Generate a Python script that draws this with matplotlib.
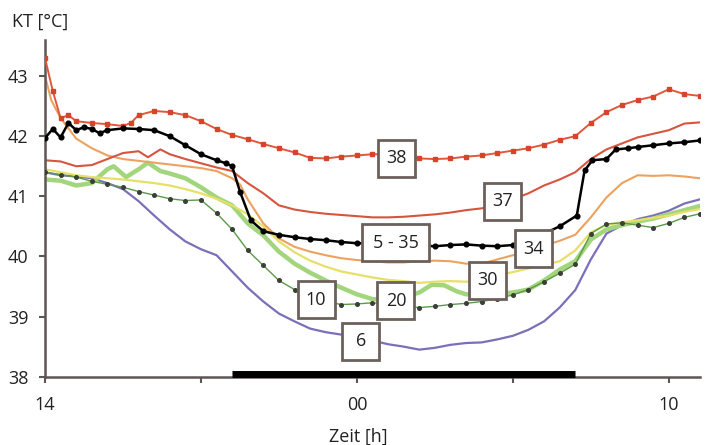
import matplotlib
matplotlib.use("Agg")
import matplotlib.pyplot as plt
from matplotlib.patches import Rectangle

plt.rcParams["font.family"] = ["Open Sans", "DejaVu Sans"]

# ── Data: body core temperature (KT) over one day, per ambient group ──────────
# hours counted from 14:00; 24 = 00:00, 34 = 10:00 next day

h_38 = [14.0, 14.25, 14.5, 14.75, 15.0, 15.5, 16.0, 16.5, 16.75, 17.0, 17.5,
        18.0, 18.5, 19.0, 19.5, 20.0, 20.5, 21.0, 21.5, 22.0, 22.5, 23.0, 23.5,
        24.0, 24.5, 25.0, 25.5, 26.0, 26.5, 27.0, 27.5, 28.0, 28.5, 29.0, 29.5,
        30.0, 30.5, 31.0, 31.5, 32.0, 32.5, 33.0, 33.5, 34.0, 34.5, 35.0]
t_38 = [43.30, 42.75, 42.30, 42.35, 42.25, 42.22, 42.20, 42.17, 42.22, 42.35,
        42.42, 42.40, 42.35, 42.25, 42.12, 42.02, 41.95, 41.87, 41.80, 41.73,
        41.64, 41.63, 41.66, 41.68, 41.70, 41.70, 41.67, 41.63, 41.62, 41.63,
        41.66, 41.68, 41.72, 41.76, 41.80, 41.86, 41.94, 42.00, 42.22, 42.40,
        42.52, 42.60, 42.66, 42.78, 42.70, 42.67]

h_37 = [14.0, 14.5, 15.0, 15.5, 16.0, 16.5, 17.0, 17.3, 17.7, 18.0, 18.5, 19.0,
        19.5, 20.0, 20.5, 21.0, 21.5, 22.0, 22.5, 23.0, 23.5, 24.0, 24.5, 25.0,
        25.5, 26.0, 26.5, 27.0, 27.5, 28.0, 28.5, 29.0, 29.5, 30.0, 30.5, 31.0,
        31.5, 32.0, 32.5, 33.0, 33.5, 34.0, 34.5, 35.0]
t_37 = [41.60, 41.58, 41.50, 41.52, 41.62, 41.72, 41.75, 41.65, 41.78, 41.70,
        41.62, 41.55, 41.48, 41.42, 41.22, 41.05, 40.85, 40.78, 40.74, 40.71,
        40.69, 40.67, 40.65, 40.65, 40.66, 40.68, 40.70, 40.73, 40.77, 40.80,
        40.85, 40.95, 41.05, 41.18, 41.28, 41.40, 41.62, 41.78, 41.88, 41.98,
        42.04, 42.10, 42.21, 42.23]

h_535 = [14.0, 14.25, 14.5, 14.75, 15.0, 15.25, 15.5, 15.75, 16.0, 16.5, 17.0,
         17.5, 18.0, 18.5, 19.0, 19.5, 19.8, 20.0, 20.25, 20.6, 21.0, 21.5, 22.0,
         22.5, 23.0, 23.5, 24.0, 24.5, 25.0, 25.5, 26.0, 26.5, 27.0, 27.5, 28.0,
         28.5, 29.0, 29.5, 30.0, 30.5, 31.05, 31.3, 31.55, 32.0, 32.3, 32.7,
         33.0, 33.5, 34.0, 34.5, 35.0]
t_535 = [41.97, 42.12, 41.98, 42.22, 42.10, 42.15, 42.12, 42.05, 42.10, 42.13,
         42.12, 42.10, 42.00, 41.85, 41.70, 41.60, 41.55, 41.50, 41.08, 40.60,
         40.42, 40.36, 40.32, 40.29, 40.27, 40.24, 40.22, 40.22, 40.21, 40.20,
         40.18, 40.17, 40.19, 40.20, 40.18, 40.17, 40.19, 40.25, 40.38, 40.50,
         40.68, 41.43, 41.60, 41.62, 41.78, 41.80, 41.82, 41.85, 41.88, 41.90,
         41.93]

h_34 = [14.0, 14.2, 14.5, 15.0, 15.5, 16.0, 16.5, 17.0, 17.5, 18.0, 18.5, 19.0,
        19.5, 20.0, 20.25, 20.5, 21.0, 21.5, 22.0, 22.5, 23.0, 23.5, 24.0, 24.5,
        25.0, 25.5, 26.0, 26.5, 27.0, 27.5, 28.0, 28.5, 29.0, 29.5, 30.0, 30.5,
        31.0, 31.5, 32.0, 32.5, 33.0, 33.5, 34.0, 34.5, 35.0]
t_34 = [43.00, 42.60, 42.30, 41.96, 41.80, 41.68, 41.62, 41.59, 41.56, 41.53,
        41.50, 41.47, 41.42, 41.30, 41.20, 40.95, 40.55, 40.30, 40.16, 40.08,
        40.02, 39.97, 39.94, 39.92, 39.90, 39.90, 39.92, 39.93, 39.92, 39.88,
        39.88, 39.95, 40.02, 40.08, 40.18, 40.26, 40.36, 40.65, 40.98, 41.22,
        41.35, 41.34, 41.35, 41.33, 41.30]

h_30 = [14.0, 14.5, 15.0, 15.5, 16.0, 16.5, 17.0, 17.5, 18.0, 18.5, 19.0, 19.5,
        20.0, 20.5, 21.0, 21.5, 22.0, 22.5, 23.0, 23.5, 24.0, 24.5, 25.0, 25.5,
        26.0, 26.5, 27.0, 27.5, 28.0, 28.5, 29.0, 29.5, 30.0, 30.5, 31.0, 31.5,
        32.0, 32.5, 33.0, 33.5, 34.0, 34.5, 35.0]
t_30 = [41.45, 41.40, 41.35, 41.32, 41.30, 41.28, 41.25, 41.22, 41.18, 41.12,
        41.05, 40.96, 40.85, 40.70, 40.50, 40.25, 40.07, 39.93, 39.83, 39.75,
        39.70, 39.65, 39.61, 39.59, 39.56, 39.58, 39.59, 39.58, 39.60, 39.68,
        39.74, 39.80, 39.86, 39.92, 40.10, 40.40, 40.52, 40.57, 40.60, 40.64,
        40.68, 40.74, 40.79]

h_20 = [14.0, 14.5, 15.0, 15.5, 16.0, 16.2, 16.6, 17.0, 17.3, 17.7, 18.0, 18.5,
        19.0, 19.5, 20.0, 20.5, 21.0, 21.5, 22.0, 22.5, 23.0, 23.5, 24.0, 24.5,
        25.0, 25.5, 26.0, 26.4, 26.8, 27.2, 27.5, 28.0, 28.5, 29.0, 29.5, 30.0,
        30.5, 31.0, 31.5, 32.0, 32.5, 33.0, 33.5, 34.0, 34.5, 35.0]
t_20 = [41.28, 41.26, 41.18, 41.22, 41.45, 41.50, 41.32, 41.45, 41.56, 41.42,
        41.38, 41.30, 41.15, 40.98, 40.85, 40.55, 40.35, 40.08, 39.88, 39.73,
        39.60, 39.48, 39.37, 39.29, 39.28, 39.32, 39.40, 39.53, 39.52, 39.42,
        39.37, 39.38, 39.38, 39.40, 39.45, 39.60, 39.78, 39.92, 40.28, 40.45,
        40.52, 40.58, 40.63, 40.70, 40.77, 40.84]

h_10 = [14.0, 14.5, 15.0, 15.5, 16.0, 16.5, 17.0, 17.5, 18.0, 18.5, 19.0, 19.5,
        20.0, 20.5, 21.0, 21.5, 22.0, 22.5, 23.0, 23.5, 24.0, 24.5, 25.0, 25.5,
        26.0, 26.5, 27.0, 27.5, 28.0, 28.5, 29.0, 29.5, 30.0, 30.5, 31.0, 31.5,
        32.0, 32.5, 33.0, 33.5, 34.0, 34.5, 35.0]
t_10 = [41.40, 41.36, 41.32, 41.25, 41.20, 41.15, 41.08, 41.02, 40.96, 40.93,
        40.94, 40.72, 40.45, 40.10, 39.85, 39.60, 39.45, 39.35, 39.25, 39.20,
        39.21, 39.23, 39.20, 39.17, 39.15, 39.17, 39.20, 39.22, 39.25, 39.30,
        39.36, 39.45, 39.58, 39.72, 39.87, 40.38, 40.54, 40.56, 40.52, 40.48,
        40.55, 40.65, 40.71]

h_6 = [14.0, 14.5, 15.0, 15.5, 16.0, 16.5, 17.0, 17.5, 18.0, 18.5, 19.0, 19.5,
       20.0, 20.5, 21.0, 21.5, 22.0, 22.5, 23.0, 23.5, 24.0, 24.5, 25.0, 25.5,
       26.0, 26.5, 27.0, 27.5, 28.0, 28.5, 29.0, 29.5, 30.0, 30.5, 31.0, 31.5,
       32.0, 32.5, 33.0, 33.5, 34.0, 34.5, 35.0]
t_6 = [41.40, 41.35, 41.33, 41.30, 41.22, 41.12, 40.92, 40.68, 40.45, 40.25,
       40.12, 40.02, 39.75, 39.48, 39.25, 39.05, 38.92, 38.80, 38.74, 38.70,
       38.66, 38.60, 38.54, 38.50, 38.45, 38.48, 38.53, 38.56, 38.57, 38.62,
       38.68, 38.78, 38.92, 39.15, 39.44, 39.95, 40.38, 40.52, 40.62, 40.68,
       40.76, 40.88, 40.95]

# dark phase (lights off) shown as a bar on the time axis
dark_start, dark_end = 20.0, 31.0

x_ticks = [14, 19, 24, 29, 34]
x_ticklabels = ["14", "", "00", "", "10"]
y_ticks = [38, 39, 40, 41, 42, 43]

# group labels: text, hour, temperature
group_labels = [
    ("38", 25.28, 41.63),
    ("37", 28.68, 40.92),
    ("5 - 35", 25.25, 40.23),
    ("34", 29.67, 40.13),
    ("30", 28.20, 39.60),
    ("10", 22.69, 39.28),
    ("20", 25.25, 39.26),
    ("6", 24.13, 38.59),
]

# ── Figure ────────────────────────────────────────────────────────────────────
AXIS_COLOR = "#5e5555"
BOX_H_PX = 37          # label box height in pixels
BOX_W_PX = 37          # width for short labels
BOX_W_WIDE_PX = 67     # width for the "5 - 35" label

fig = plt.figure(figsize=(7.11, 4.45), dpi=100)
ax = fig.add_axes([0.0633, 0.1535, 0.9212, 0.7566])

ax.plot(h_6, t_6, color="#7b70b8", linewidth=1.6, zorder=2)
ax.plot(h_20, t_20, color="#a2d57c", linewidth=3.2, zorder=2)
ax.plot(h_10, t_10, color="#5c9a46", linewidth=1.0, marker="o", markersize=2.6,
        markerfacecolor="#3a3f38", markeredgecolor="#3a3f38", zorder=3)
ax.plot(h_30, t_30, color="#e6e066", linewidth=1.6, zorder=2)
ax.plot(h_34, t_34, color="#eba25e", linewidth=1.5, zorder=2)
ax.plot(h_37, t_37, color="#d6553e", linewidth=1.5, zorder=2)
ax.plot(h_535, t_535, color="black", linewidth=1.8, marker="o", markersize=3.4,
        zorder=4)
ax.plot(h_38, t_38, color="#e0583c", linewidth=1.4, marker="s", markersize=2.6,
        markerfacecolor="#d8432a", markeredgecolor="#d8432a", zorder=3)

ax.plot([dark_start, dark_end], [38.05, 38.05], color="black", linewidth=5,
        solid_capstyle="butt", zorder=5, clip_on=False)

ax.set_xlim(14, 35.0)
ax.set_ylim(38, 43.6)

# fixed-size square boxes behind the group labels
px_per_h = ax.bbox.width / (35.0 - 14)
px_per_deg = ax.bbox.height / (43.6 - 38)
for text, hx, ty in group_labels:
    w = (BOX_W_WIDE_PX if len(text) > 2 else BOX_W_PX) / px_per_h
    h = BOX_H_PX / px_per_deg
    ax.add_patch(Rectangle((hx - w / 2, ty - h / 2), w, h, facecolor="white",
                           edgecolor="#6b605c", linewidth=2.0, zorder=6))
    ax.text(hx, ty, text, ha="center", va="center", fontsize=13,
            color="#222222", zorder=7)

ax.set_xticks(x_ticks)
ax.set_xticklabels(x_ticklabels)
ax.set_yticks(y_ticks)

for side in ("top", "right"):
    ax.spines[side].set_visible(False)
for side in ("left", "bottom"):
    ax.spines[side].set_color(AXIS_COLOR)
    ax.spines[side].set_linewidth(1.8)

ax.tick_params(axis="both", direction="out", length=4, width=1.5,
               color=AXIS_COLOR, labelsize=13, labelcolor="#222222")
ax.tick_params(axis="x", pad=10)
ax.tick_params(axis="y", pad=8)

fig.text(12 / 711, 1 - 22 / 445, "KT [°C]", fontsize=13, color="#222222",
         ha="left", va="center")
fig.text(358 / 711, 1 - 437 / 445, "Zeit [h]", fontsize=13, color="#222222",
         ha="center", va="center")

fig.savefig("out.png", dpi=100, facecolor="white")
